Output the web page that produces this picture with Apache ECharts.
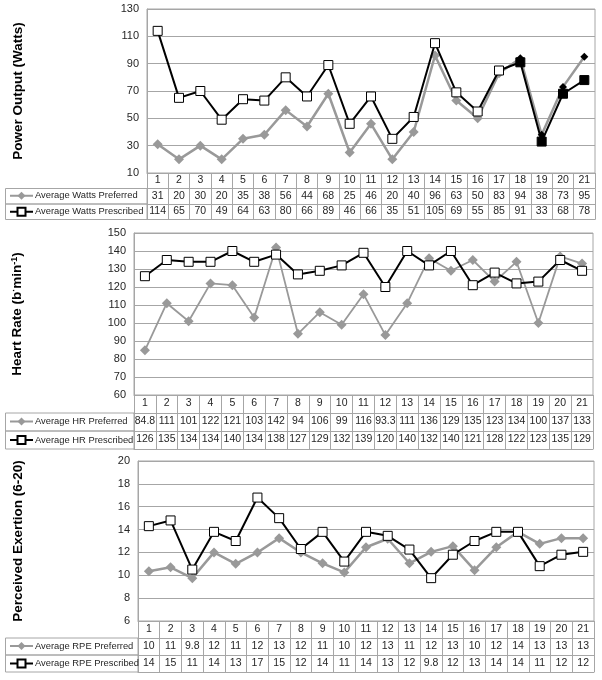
<!DOCTYPE html>
<html><head><meta charset="utf-8">
<script src="https://cdn.jsdelivr.net/npm/echarts@6/dist/echarts.min.js"></script>
<style>html,body{margin:0;padding:0;background:#fff}#c{width:602px;height:680px}</style>
</head><body><div id="c"></div>
<script>
// ---------------- data ----------------
const categories = ['1','2','3','4','5','6','7','8','9','10','11','12','13','14','15','16','17','18','19','20','21'];

const wattsPreferred  = [31,20,30,20,35,38,56,44,68,25,46,20,40,96,63,50,83,94,38,73,95];
const wattsPrescribed = [114,65,70,49,64,63,80,66,89,46,66,35,51,105,69,55,85,91,33,68,78];

const hrPreferred  = [84.8,111,101,122,121,103,142,94,106,99,116,93.3,111,136,129,135,123,134,100,137,133];
const hrPrescribed = [126,135,134,134,140,134,138,127,129,132,139,120,140,132,140,121,128,122,123,135,129];

const rpePreferred  = [10.35,10.7,9.75,12.0,11.0,12.0,13.25,12.0,11.05,10.25,12.45,13.2,11.05,12.05,12.55,10.45,12.45,13.8,12.75,13.25,13.25];
const rpePrescribed = [14.3,14.8,10.5,13.8,13.0,16.8,15.0,12.3,13.8,11.2,13.8,13.45,12.25,9.75,11.8,13.0,13.8,13.8,10.8,11.8,12.05];
const rpePreferredLabels  = ['10','11','9.8','12','11','12','13','12','11','10','12','13','11','12','13','10','12','14','13','13','13'];
const rpePrescribedLabels = ['14','15','11','14','13','17','15','12','14','11','14','13','12','9.8','12','13','14','14','11','12','12'];

const wattsTicks = {min:10, max:130, interval:20};
const hrTicks    = {min:60, max:150, interval:10};
const rpeTicks   = {min:6,  max:20,  interval:2};

// ---------------- layout / style ----------------
const GRAY_LINE = '#a6a6a6';
const PREF_COLOR = '#999999';
const TXT = '#262626';
const FONT = "'Liberation Sans', Arial, sans-serif";

const panels = [
  { title:'Power Output (Watts)', rich:false,
    pref:wattsPreferred, pres:wattsPrescribed,
    prefLabels:wattsPreferred.map(String), presLabels:wattsPrescribed.map(String),
    ticks:wattsTicks, left:147, right:595, top:9, bottom:173, rowH:15.5,
    prefName:'Average Watts Preferred', presName:'Average Watts Prescribed', blackFrom:17, prefWidth:2.5 },
  { title:'Heart Rate (b{s|·}min{s|-1})', rich:true,
    pref:hrPreferred, pres:hrPrescribed,
    prefLabels:hrPreferred.map(String), presLabels:hrPrescribed.map(String),
    ticks:hrTicks, left:134, right:593, top:233, bottom:395, rowH:18,
    prefName:'Average HR Preferred', presName:'Average HR Prescribed', blackFrom:99, prefWidth:1.8 },
  { title:'Perceived Exertion (6-20)', rich:false,
    pref:rpePreferred, pres:rpePrescribed,
    prefLabels:rpePreferredLabels, presLabels:rpePrescribedLabels,
    ticks:rpeTicks, left:138, right:594, top:461, bottom:621, rowH:17,
    prefName:'Average RPE Preferred', presName:'Average RPE Prescribed', blackFrom:99, prefWidth:2.5 }
];

const grid = [], xAxis = [], yAxis = [], series = [], legend = [], graphicEls = [];

panels.forEach((p, i) => {
  grid.push({ left:p.left, top:p.top, width:p.right - p.left, height:p.bottom - p.top,
    show:true, borderColor:GRAY_LINE, borderWidth:1, containLabel:false });

  const labelFmt = [null, (v, k) => p.prefLabels[k], (v, k) => p.presLabels[k], null];
  for (let r = 0; r < 4; r++) {
    xAxis.push({
      type:'category', gridIndex:i, data:categories, position:'bottom',
      offset:r * p.rowH, boundaryGap:true,
      axisLine:{ show:true, lineStyle:{ color:GRAY_LINE, width:1 } },
      axisTick:{ show:r < 3, interval:0, length:p.rowH, inside:false, lineStyle:{ color:GRAY_LINE, width:1 } },
      axisLabel:{ show:r < 3, interval:0, margin:Math.round(p.rowH / 2 - 6), fontSize:10.5, fontFamily:FONT, color:TXT,
        formatter: labelFmt[r] || undefined },
      splitLine:{ show:false }
    });
  }

  const nameStyle = { fontWeight:'bold', fontSize:13.5, fontFamily:FONT, color:'#000' };
  if (p.rich) nameStyle.rich = { s:{ fontWeight:'bold', fontSize:9, fontFamily:FONT, color:'#000', verticalAlign:'top', padding:[0,0,6,0] } };
  yAxis.push({
    type:'value', gridIndex:i, min:p.ticks.min, max:p.ticks.max, interval:p.ticks.interval,
    axisLine:{ show:true, lineStyle:{ color:GRAY_LINE } },
    axisTick:{ show:false },
    axisLabel:{ margin:8, fontSize:11, fontFamily:FONT, color:TXT },
    splitLine:{ show:true, lineStyle:{ color:GRAY_LINE, width:1 } },
    name:p.title, nameLocation:'middle', nameRotate:90, nameGap:p.left - 25,
    nameTextStyle:nameStyle
  });

  const prefData = p.pref.map((v, k) => k >= p.blackFrom
    ? { value:v, symbolSize:8, itemStyle:{ color:'#000', borderColor:'#000' } } : v);
  const presData = p.pres.map((v, k) => k >= p.blackFrom
    ? { value:v, itemStyle:{ color:'#000', borderColor:'#000' } } : v);

  series.push({
    name:p.prefName, type:'line', xAxisIndex:i * 4, yAxisIndex:i, data:prefData,
    symbol:'diamond', symbolSize:10, showAllSymbol:true,
    lineStyle:{ color:PREF_COLOR, width:p.prefWidth },
    itemStyle:{ color:PREF_COLOR, borderColor:PREF_COLOR, borderWidth:0 },
    emphasis:{ disabled:true }, animation:false, z:2
  });
  series.push({
    name:p.presName, type:'line', xAxisIndex:i * 4, yAxisIndex:i, data:presData,
    symbol:'rect', symbolSize:9, showAllSymbol:true,
    lineStyle:{ color:'#000', width:2 },
    itemStyle:{ color:'#fff', borderColor:'#000', borderWidth:1 },
    emphasis:{ disabled:true }, animation:false, z:3
  });

  // legend cells (left part of the data table)
  [1, 2].forEach((r) => {
    const y0 = p.bottom + r * p.rowH;
    graphicEls.push({ type:'rect', shape:{ x:5.5, y:y0, width:p.left - 5.5, height:p.rowH },
      style:{ fill:'none', stroke:GRAY_LINE, lineWidth:1 }, silent:true, z:1 });
    legend.push({
      data:[r === 1 ? p.prefName : p.presName], left:9, top:y0 + (p.rowH - 10) / 2,
      itemWidth:23, itemHeight:10, padding:0, itemGap:0, selectedMode:false,
      textStyle:{ fontSize:9.4, fontFamily:FONT, color:TXT, padding:[0,0,0,-3] }
    });
  });
});

const chart = echarts.init(document.getElementById('c'), null, { renderer:'canvas' });
chart.setOption({
  animation:false, backgroundColor:'#fff',
  grid, xAxis, yAxis, series, legend,
  graphic:{ elements:graphicEls }
});
</script>
</body></html>
